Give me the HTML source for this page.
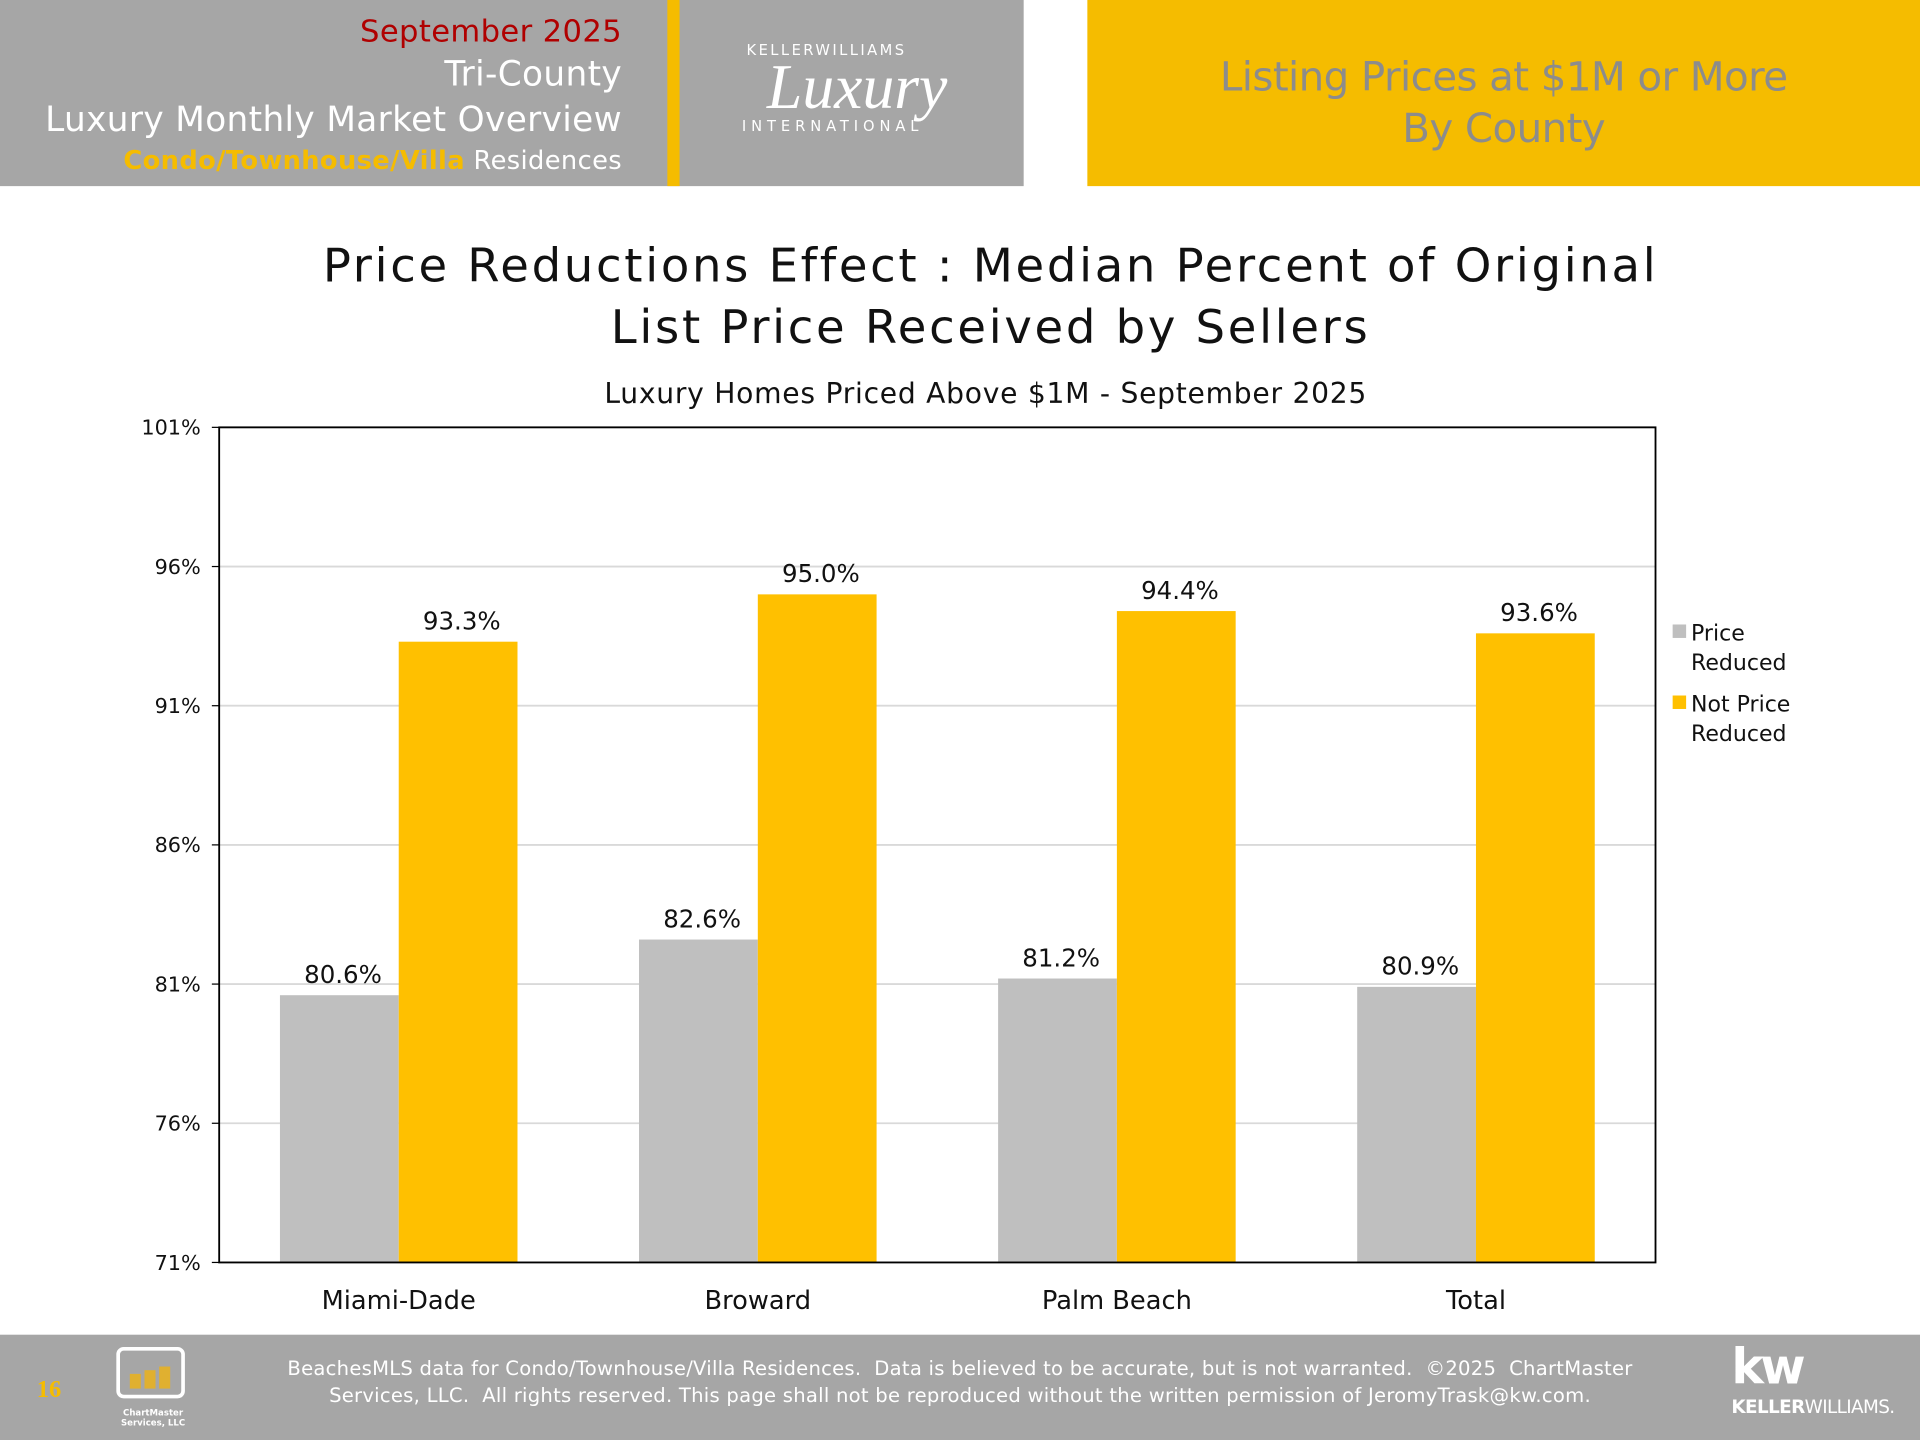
<!DOCTYPE html>
<html><head><meta charset="utf-8"><style>
html,body{margin:0;padding:0;background:#fff;overflow:hidden}
#root{position:relative;width:1568px;height:1176px;transform:scale(1.2244898);transform-origin:0 0;font-family:"DejaVu Sans","Liberation Sans",sans-serif}
.abs{position:absolute}
</style></head><body>
<div id="root">
<div class="abs" style="left:0;top:0;width:836px;height:152px;background:#a6a6a6"></div>
<div class="abs" style="left:545px;top:0;width:10px;height:152px;background:#f5bc00"></div>
<div class="abs" style="right:1060px;top:10px;text-align:right;color:#fff;font-size:28px;line-height:37px;letter-spacing:0.3px;white-space:nowrap">
<div style="color:#b00000;font-size:25px;line-height:32px">September 2025</div>
<div>Tri-County</div>
<div>Luxury Monthly Market Overview</div>
<div style="font-size:21px;line-height:30px"><span style="color:#f5bc00;font-weight:bold">Condo/Townhouse/Villa</span> Residences</div>
</div>
<div class="abs" style="left:575px;top:34px;width:260px;color:#fff;text-align:center">
<div style="font-size:12px;letter-spacing:2px;width:200px">KELLERWILLIAMS</div>
<div style="font-family:'Liberation Serif',serif;font-style:italic;font-size:52px;line-height:48px;width:250px">Luxury</div>
<div style="font-size:12px;letter-spacing:4px;width:210px">INTERNATIONAL</div>
</div>
<div class="abs" style="left:888px;top:0;width:680px;height:152px;background:#f5bc00;color:#8c8c8c;text-align:center;font-size:33px;line-height:42px;box-sizing:border-box;padding-top:42px;letter-spacing:-0.5px">Listing Prices at $1M or More<br>By County</div>

<div class="abs" style="left:0;width:1618px;top:192px;text-align:center;font-size:38px;line-height:50px;letter-spacing:2.2px;color:#111">Price Reductions Effect : Median Percent of Original<br>List Price Received by Sellers</div>
<div class="abs" style="left:0;width:1610px;top:309px;text-align:center;font-size:23px;letter-spacing:0.6px;color:#111">Luxury Homes Priced Above $1M - September 2025</div>

<svg class="abs" style="left:0;top:0" width="1568" height="1176" id="chart"></svg>

<div class="abs" style="left:0;top:1090px;width:1568px;height:86px;background:#a6a6a6"></div>
<div class="abs" style="left:30px;top:1124px;color:#f5bc00;font-family:'Liberation Serif',serif;font-weight:bold;font-size:20px">16</div>
<div class="abs" style="left:95px;top:1100px;width:56px;height:42px;border:3px solid #fff;border-radius:6px;box-sizing:border-box">
<div style="position:absolute;left:8px;bottom:5px;width:9px;height:12px;background:#e0b030"></div>
<div style="position:absolute;left:20px;bottom:5px;width:9px;height:15px;background:#e0b030"></div>
<div style="position:absolute;left:32px;bottom:5px;width:9px;height:18px;background:#e0b030"></div>
</div>
<div class="abs" style="left:92px;top:1150px;width:66px;text-align:center;color:#fff;font-size:7px;font-weight:bold;line-height:8px">ChartMaster<br>Services, LLC</div>
<div class="abs" style="left:170px;width:1228px;top:1107px;text-align:center;color:#fff;font-size:16px;line-height:22px;letter-spacing:0.2px;white-space:pre">BeachesMLS data for Condo/Townhouse/Villa Residences.  Data is believed to be accurate, but is not warranted.  ©2025  ChartMaster
Services, LLC.  All rights reserved. This page shall not be reproduced without the written permission of JeromyTrask@kw.com.</div>
<div class="abs" style="left:1414px;top:1094px;color:#fff;text-align:left">
<div style="font-size:40px;font-weight:bold;line-height:46px;letter-spacing:-3px">kw</div>
<div style="font-size:15px;letter-spacing:-0.5px"><b>KELLER</b>WILLIAMS.</div>
</div>
</div>
<script>
const categories=["Miami-Dade","Broward","Palm Beach","Total"];
const priceReduced=[80.6,82.6,81.2,80.9];
const notPriceReduced=[93.3,95.0,94.4,93.6];
const yTicks=[71,76,81,86,91,96,101];
const NS="http://www.w3.org/2000/svg";
const svg=document.getElementById('chart');
const L=179,R=1352,T=349,B=1031,yMin=71,yMax=101;
const y=v=>B-(v-yMin)/(yMax-yMin)*(B-T);
const gw=(R-L)/categories.length;
const x=i=>L+gw*i+gw/2;
const bw=97;
function mk(tag,attrs){const e=document.createElementNS(NS,tag);for(const k in attrs)e.setAttribute(k,attrs[k]);svg.appendChild(e);return e;}
yTicks.forEach(t=>{
  const g=mk('line',{x1:L,x2:R,y1:y(t),y2:y(t),stroke:'#d9d9d9','stroke-width':1.5});
  
  
  const tk=mk('line',{x1:L-6,x2:L,y1:y(t),y2:y(t),stroke:'#000','stroke-width':1});
  
  
  const tx=mk('text',{x:L-15,y:y(t)+6,'text-anchor':'end','font-size':17,fill:'#111','font-family':'DejaVu Sans, Liberation Sans, sans-serif'});
  tx.textContent=t+'%';
  
  
});
categories.forEach((c,i)=>{
  const cx=x(i);
  [[priceReduced[i],'#bfbfbf',cx-bw],[notPriceReduced[i],'#ffc000',cx]].forEach(([v,col,bx],s)=>{
    const r=mk('rect',{x:bx,y:y(v),width:bw,height:B-y(v),fill:col});
    
    
    const lb=mk('text',{x:bx+bw/2+3,y:y(v)-10,'text-anchor':'middle','font-size':20,fill:'#111','font-family':'DejaVu Sans, Liberation Sans, sans-serif'});
    lb.textContent=v.toFixed(1)+'%';
    
    
  });
  const cl=mk('text',{x:cx,y:B+38,'text-anchor':'middle','font-size':21,fill:'#111','font-family':'DejaVu Sans, Liberation Sans, sans-serif'});
  cl.textContent=c;
  
  
});
const frame=mk('rect',{x:L,y:T,width:R-L,height:B-T,fill:'none',stroke:'#000','stroke-width':1.5});


[['#bfbfbf',['Price','Reduced'],516],['#ffc000',['Not Price','Reduced'],574]].forEach(([col,lines,ly])=>{
  const sw=mk('rect',{x:1366,y:ly-6,width:11,height:11,fill:col});
  
  
  lines.forEach((t,k)=>{
    const tx=mk('text',{x:1381,y:ly+7+k*24,'font-size':18,fill:'#111','font-family':'DejaVu Sans, Liberation Sans, sans-serif'});
    tx.textContent=t;
    
    
  });
});
</script>
</body></html>
